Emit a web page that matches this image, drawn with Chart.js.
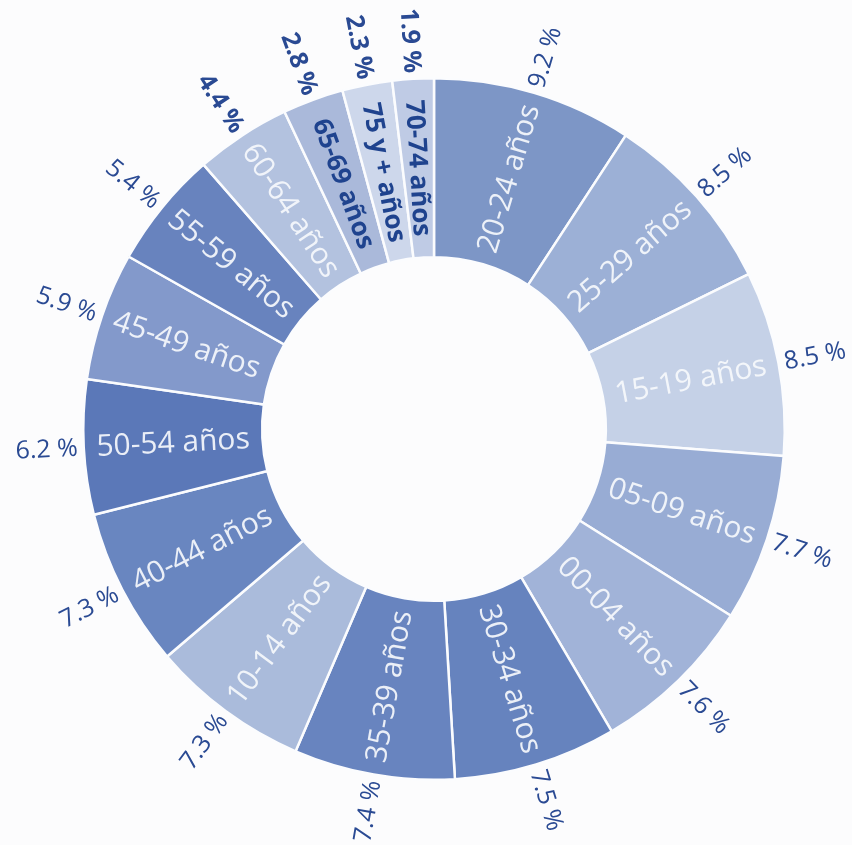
<!DOCTYPE html>
<html lang="es">
<head>
<meta charset="utf-8">
<title>Población por grupos de edad</title>
<script src="https://cdn.jsdelivr.net/npm/chart.js@4.4.1/dist/chart.umd.min.js"></script>
<style>
    html, body { margin: 0; padding: 0; background: #fcfcfd; }
    #wrap { width: 852px; height: 845px; position: relative; }
    canvas { display: block; }
</style>
</head>
<body>
<div id="wrap"><canvas id="ageChart" width="852" height="845"></canvas></div>
<script>
// Age groups, clockwise from 12 o'clock
const ageGroups = ['20-24 años', '25-29 años', '15-19 años', '05-09 años', '00-04 años',
    '30-34 años', '35-39 años', '10-14 años', '40-44 años', '50-54 años', '45-49 años',
    '55-59 años', '60-64 años', '65-69 años', '75 y + años', '70-74 años'];
const shares = [9.2, 8.5, 8.5, 7.7, 7.6, 7.5, 7.4, 7.3, 7.3, 6.2, 5.9, 5.4, 4.4, 2.8, 2.3, 1.9];
const shareLabels = shares.map(v => `${v.toFixed(1)} %`);

// Segment colours and which labels get the dark bold style
const segmentColors = ['#7d96c6', '#9cb0d6', '#c5d1e7', '#98acd4', '#a1b3d8', '#6683be',
    '#6884bf', '#aabbdb', '#6986c0', '#5b78b8', '#8399cb', '#6883be', '#b3c2df', '#aab9da',
    '#cdd7eb', '#bfcbe5'];
const darkInside = ['65-69 años', '75 y + años', '70-74 años'];
const boldShares = ['60-64 años', '65-69 años', '75 y + años', '70-74 años'];

const FONT = '"Open Sans", "Noto Sans", sans-serif';
const DARK = '#2a4a93';

// Draws the radial labels inside each segment and the percentage just outside it
const radialLabels = {
    id: 'radialLabels',
    afterDatasetsDraw(chart) {
        const ctx = chart.ctx;
        const meta = chart.getDatasetMeta(0);
        meta.data.forEach((arc, i) => {
            const p = arc.getProps(['x', 'y', 'startAngle', 'endAngle', 'innerRadius', 'outerRadius'], true);
            const mid = (p.startAngle + p.endAngle) / 2;
            const rightSide = Math.cos(mid) >= 0;
            const rot = rightSide ? mid : mid + Math.PI;
            const name = ageGroups[i];

            // label inside the ring
            const rMid = (p.innerRadius + p.outerRadius) / 2;
            ctx.save();
            ctx.translate(p.x + rMid * Math.cos(mid), p.y + rMid * Math.sin(mid));
            ctx.rotate(rot);
            ctx.textAlign = 'center';
            ctx.textBaseline = 'middle';
            if (darkInside.includes(name)) {
                ctx.font = `bold 26px ${FONT}`;
                ctx.fillStyle = '#1f438e';
            } else {
                ctx.font = `30px ${FONT}`;
                ctx.fillStyle = 'rgba(246,248,252,0.92)';
            }
            ctx.fillText(name, 0, 1);
            ctx.restore();

            // percentage outside the ring
            const rOut = p.outerRadius + 6;
            ctx.save();
            ctx.translate(p.x + rOut * Math.cos(mid), p.y + rOut * Math.sin(mid));
            ctx.rotate(rot);
            ctx.textAlign = rightSide ? 'left' : 'right';
            ctx.textBaseline = 'middle';
            ctx.font = `${boldShares.includes(name) ? 'bold ' : ''}25px ${FONT}`;
            ctx.fillStyle = DARK;
            ctx.fillText(shareLabels[i], 0, 1);
            ctx.restore();
        });
    }
};

new Chart(document.getElementById('ageChart'), {
    type: 'doughnut',
    data: {
        labels: ageGroups,
        datasets: [{
            data: shares,
            backgroundColor: segmentColors,
            borderColor: '#fbfcfe',
            borderWidth: 2.5,
            hoverOffset: 0
        }]
    },
    options: {
        responsive: false,
        animation: false,
        cutout: '49%',
        rotation: 0,
        layout: { padding: { left: 82, right: 66, top: 76, bottom: 63 } },
        plugins: {
            legend: { display: false },
            tooltip: { enabled: false }
        }
    },
    plugins: [radialLabels]
});
</script>
</body>
</html>
